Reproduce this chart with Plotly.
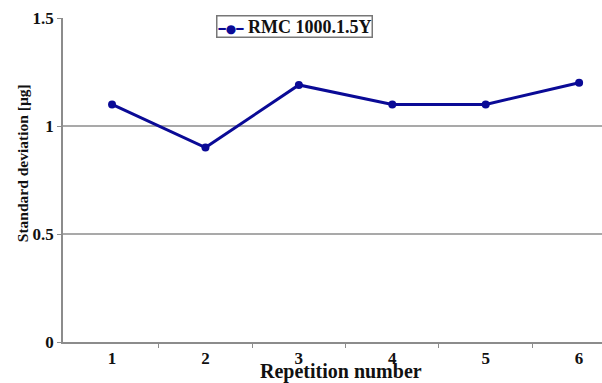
import plotly.graph_objects as go

repetitions = [1, 2, 3, 4, 5, 6]
std_dev = [1.10, 0.90, 1.19, 1.10, 1.10, 1.20]
series_name = "RMC 1000.1.5Y"
y_ticks = [0, 0.5, 1, 1.5]
y_tick_text = ["0", "0.5", "1", "1.5"]
grid_levels = [0.5, 1]

FONT = "Liberation Serif"
COLOR = "#0a0a96"

fig = go.Figure()
fig.add_trace(go.Scatter(
    x=repetitions, y=std_dev, mode="lines+markers", name=series_name,
    line=dict(color=COLOR, width=3), marker=dict(color=COLOR, size=8),
    showlegend=False,
))

for g in grid_levels:
    fig.add_shape(type="line", xref="paper", x0=0, x1=1, yref="y", y0=g, y1=g,
                  line=dict(color="#8c8c8c", width=1.3), layer="below")

# legend box drawn as a bordered annotation (compact like the reference)
fig.add_annotation(
    xref="paper", yref="paper", x=0.43, y=0.974, xanchor="center", yanchor="middle",
    text=f"<span style='color:{COLOR};font-family:DejaVu Sans;font-size:12px'><b>━●━</b></span> <b>{series_name}</b>",
    showarrow=False, bordercolor="#777777", borderwidth=1.5, borderpad=0,
    bgcolor="white", font=dict(family=FONT, size=18, color="#111111"),
)

# y-axis title
fig.add_annotation(
    xref="paper", yref="paper", x=-0.076, y=0.552, xanchor="center", yanchor="middle",
    text="<b>Standard deviation [µg]</b>", textangle=-90, showarrow=False,
    font=dict(family=FONT, size=15.5, color="#111111"),
)

# x-axis title
fig.add_annotation(
    xref="paper", yref="paper", x=0.515, y=-0.05, xanchor="center", yanchor="top",
    text="<b>Repetition number</b>", showarrow=False,
    font=dict(family=FONT, size=20, color="#111111"),
)

fig.update_layout(
    width=602, height=383,
    margin=dict(l=63, r=0, t=18, b=41, autoexpand=False),
    paper_bgcolor="white", plot_bgcolor="white",
    font=dict(family=FONT, size=17, color="#111111"),
    showlegend=False,
)
fig.update_xaxes(
    range=[0.475, 6.245], tickvals=repetitions, ticktext=[f"<b>{r}</b>" for r in repetitions],
    showgrid=False, showline=True, linecolor="#8c8c8c", linewidth=1.5,
    ticks="", zeroline=False, automargin=False,
    tickfont=dict(size=17),
)
fig.update_yaxes(
    range=[0, 1.5], tickvals=y_ticks, ticktext=[f"<b>{t}</b>" for t in y_tick_text],
    showgrid=False, showline=True, linecolor="#8c8c8c", linewidth=1.5,
    ticks="outside", ticklen=4, tickcolor="#8c8c8c", zeroline=False, automargin=False,
    tickfont=dict(size=17),
)
fig.update_xaxes(minor=dict(tickvals=[1.5, 2.5, 3.5, 4.5, 5.5], ticks="outside",
                            ticklen=4, tickcolor="#8c8c8c"))

fig.write_html("out.html", config={"displayModeBar": False},
               post_script="document.body.style.margin='0';")
